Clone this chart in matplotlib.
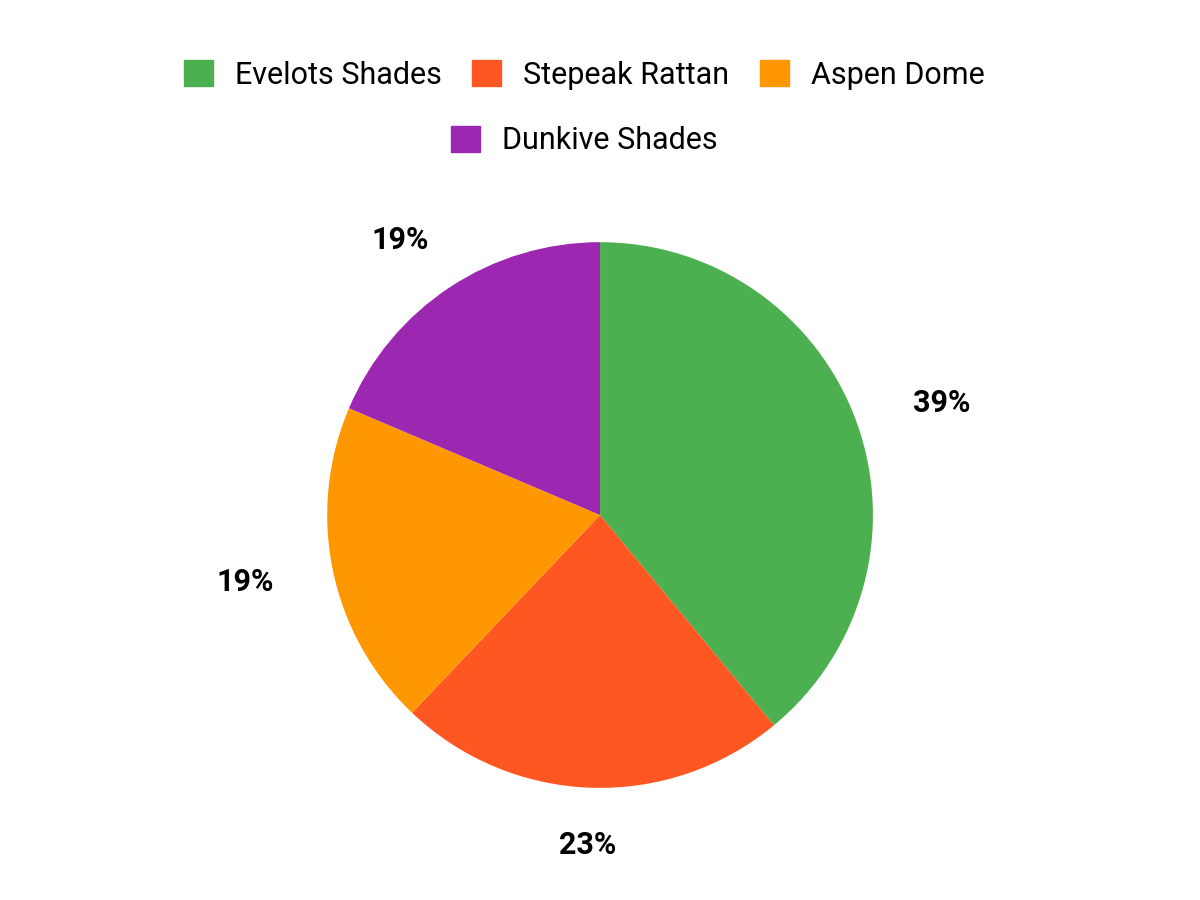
import matplotlib.pyplot as plt
import matplotlib.patches as mpatches
import numpy as np

plt.rcParams['font.family'] = ['Roboto', 'DejaVu Sans']

labels = ["Evelots Shades", "Stepeak Rattan", "Aspen Dome", "Dunkive Shades"]
values = [39.0, 23.1, 19.3, 18.6]
colors = ["#4CAF50", "#FF5722", "#FF9800", "#9C27B0"]

fig = plt.figure(figsize=(12, 9), dpi=100)
# pie centre at (600, 515) px, radius ~273 px
ax = fig.add_axes([0.1817, 0.0033, 0.6367, 0.8489])

wedges, _ = ax.pie(values, colors=colors, startangle=90, counterclock=False,
                   radius=1.0, wedgeprops=dict(linewidth=0))
ax.set_xlim(-1.4, 1.4)
ax.set_ylim(-1.4, 1.4)
ax.set_aspect('equal')
ax.axis('off')

# percentage labels sit on a slightly wide ellipse around the pie
total = sum(values)
for w, v in zip(wedges, values):
    mid = np.deg2rad((w.theta1 + w.theta2) / 2)
    ax.text(1.33 * np.cos(mid), 1.21 * np.sin(mid), f"{round(v / total * 100)}%",
            ha='center', va='center', fontsize=22, fontweight='bold', color='black')

handles = [mpatches.Patch(color=c, label=l) for c, l in zip(colors, labels)]
leg_kw = dict(frameon=False, fontsize=22, handlelength=0.95, handleheight=0.95,
              handletextpad=0.72, columnspacing=1.0, loc='center')
fig.legend(handles=handles[:3], ncol=3, bbox_to_anchor=(0.487, 0.917), **leg_kw)
fig.legend(handles=handles[3:], ncol=1, bbox_to_anchor=(0.487, 0.844), **leg_kw)

fig.savefig("out.png", dpi=100)
